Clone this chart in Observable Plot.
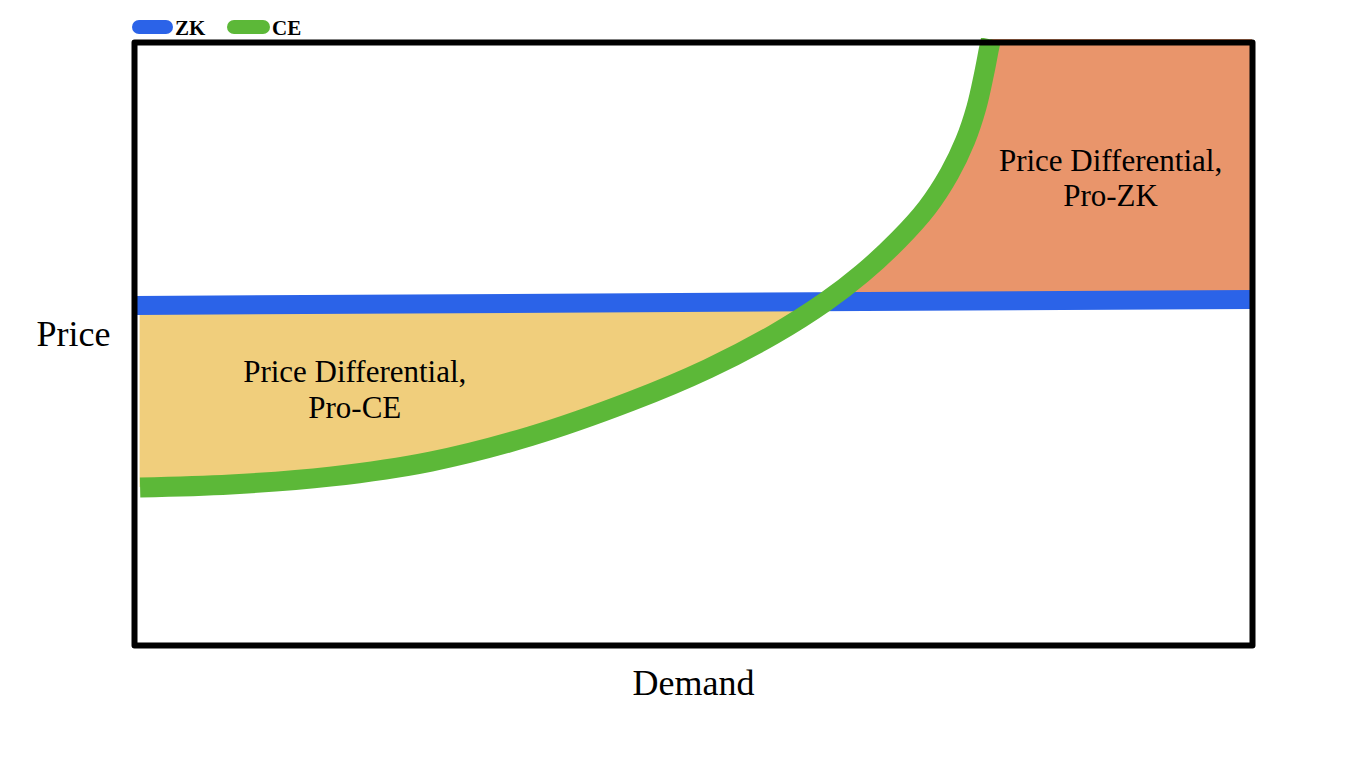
<!DOCTYPE html>
<html>
<head>
<meta charset="utf-8">
<script src="https://cdn.jsdelivr.net/npm/d3@7"></script>
<script src="https://cdn.jsdelivr.net/npm/@observablehq/plot@0.6"></script>
<style>
  html, body { margin: 0; padding: 0; background: #fff; }
  #legend { position: relative; height: 38px; width: 1359px; font-family: "Liberation Serif", "Times New Roman", serif; font-weight: bold; font-size: 21px; }
  #legend .pill { position: absolute; top: 20px; height: 14px; border-radius: 7px; }
  #legend .lab { position: absolute; top: 16px; line-height: 24px; color: #000; }
  #chart svg { display: block; }
</style>
</head>
<body>
<div id="legend"></div>
<div id="chart"></div>
<script>
// Series (abstract units: Demand 0–100 across the box, Price 0–100 up the box)
const seriesNames = ["ZK", "CE"];
const seriesColors = ["#2b63e8", "#5cb838"];

// ZK: nearly flat price line
const zkDemand = [0, 100];
const zkPrice = [56.4, 57.4];

// CE: rising curve (index 8 is where it crosses ZK)
const ceDemand = [0.5, 8.6, 17.5, 26.5, 35.4, 44.4, 51.3, 57.2, 61.8, 65.1, 68.3, 70.9, 72.9, 74.3, 75.3, 76.0, 76.4, 76.6];
const cePrice  = [26.2, 26.7, 28.0, 30.5, 34.7, 40.5, 45.9, 51.6, 57.0, 61.7, 67.2, 72.6, 78.3, 83.7, 89.2, 94.9, 98.7, 100.5];
// ZK price read at the CE demand values up to the crossing
const zkAtCe   = [56.4, 56.5, 56.6, 56.7, 56.8, 56.8, 56.9, 57.0, 57.0];
const crossIdx = 8;

// Region labels
const regionLabels = ["Price Differential,\nPro-CE", "Price Differential,\nPro-ZK"];
const regionDemand = [19.7, 87.3];
const regionPrice = [42.6, 77.7];
const regionFills = ["#f0ce7c", "#e9956b"];

const xLabel = "Demand";
const yLabel = "Price";
const serif = "'Liberation Serif', 'Times New Roman', serif";

// Build tables
const zk = zkDemand.map((d, i) => ({demand: d, price: zkPrice[i]}));
const ce = ceDemand.map((d, i) => ({demand: d, price: cePrice[i]}));
const proCE = zkAtCe.map((z, i) => ({demand: ceDemand[i], lo: cePrice[i], hi: z}));
const proZK = ce.slice(crossIdx); // region right of CE curve, above ZK
const labels = regionLabels.map((t, i) => ({text: t, demand: regionDemand[i], price: regionPrice[i]}));

// Legend
const legend = document.getElementById("legend");
const pillLeft = [132, 227], pillWidth = [41, 43], labLeft = [175, 272];
seriesNames.forEach((n, i) => {
  const p = document.createElement("div");
  p.className = "pill";
  p.style.left = pillLeft[i] + "px";
  p.style.width = pillWidth[i] + "px";
  p.style.background = seriesColors[i];
  legend.appendChild(p);
  const l = document.createElement("div");
  l.className = "lab";
  l.style.left = labLeft[i] + "px";
  l.textContent = n;
  legend.appendChild(l);
});

const plot = Plot.plot({
  width: 1359,
  height: 738,
  marginTop: 4,
  marginBottom: 131,
  marginLeft: 134,
  marginRight: 107,
  style: {fontFamily: serif, background: "#fff"},
  x: {domain: [0, 100], axis: null},
  y: {domain: [0, 100], axis: null},
  marks: [
    Plot.areaY(proCE, {x: "demand", y1: "lo", y2: "hi", fill: regionFills[0], curve: "catmull-rom"}),
    Plot.areaX(proZK, {y: "price", x1: "demand", x2: 100, fill: regionFills[1], curve: "catmull-rom"}),
    Plot.line(zk, {x: "demand", y: "price", stroke: seriesColors[0], strokeWidth: 19, strokeLinecap: "butt"}),
    Plot.line(ce, {x: "demand", y: "price", stroke: seriesColors[1], strokeWidth: 20, strokeLinecap: "butt", curve: "catmull-rom"}),
    Plot.frame({stroke: "#000", strokeWidth: 6, strokeLinejoin: "round"}),
    Plot.text(labels, {x: "demand", y: "price", text: "text", fontFamily: serif, fontSize: 31, lineHeight: 1.16, fill: "#000", textAnchor: "middle", lineAnchor: "middle"}),
    Plot.text([yLabel], {frameAnchor: "left", dx: -61, dy: -10, text: d => d, fontFamily: serif, fontSize: 36, fill: "#000", textAnchor: "middle", lineAnchor: "middle"}),
    Plot.text([xLabel], {frameAnchor: "bottom", dy: 38, text: d => d, fontFamily: serif, fontSize: 36, fill: "#000", textAnchor: "middle", lineAnchor: "middle"})
  ]
});
document.getElementById("chart").appendChild(plot);
</script>
</body>
</html>
